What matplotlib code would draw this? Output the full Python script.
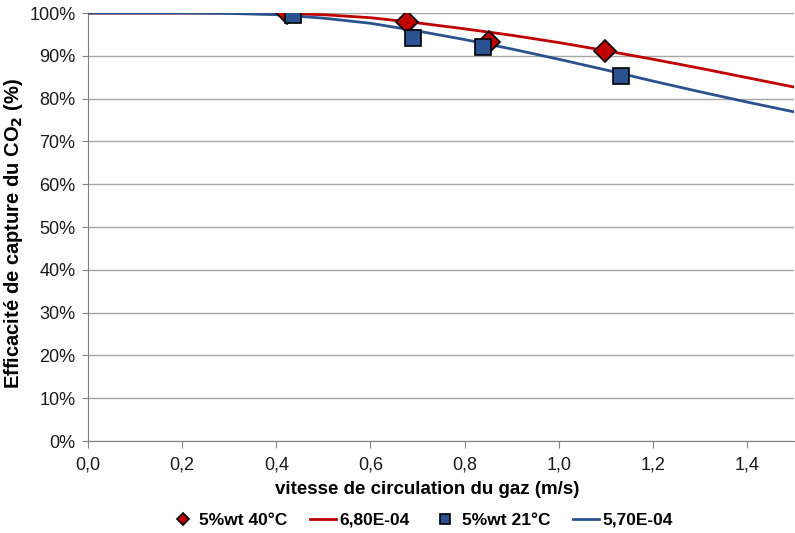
import matplotlib.pyplot as plt
from matplotlib.ticker import FuncFormatter

plt.rcParams['font.family'] = ['Liberation Sans', 'DejaVu Sans']

# mesures
x_40 = [0.423, 0.677, 0.851, 1.098]
y_40 = [100.0, 97.9, 93.2, 91.1]
x_21 = [0.436, 0.691, 0.840, 1.132]
y_21 = [99.5, 94.2, 92.1, 85.3]

# modeles
x_mod = [0.0, 0.1, 0.2, 0.3, 0.4, 0.5, 0.6, 0.7, 0.8, 0.9, 1.0, 1.1, 1.2, 1.3, 1.4, 1.5]
y_mod_40 = [100, 100, 100, 100, 99.9, 99.6, 98.9, 97.7, 96.3, 94.8, 93.1, 91.2, 89.2, 87.1, 84.9, 82.7]
y_mod_21 = [100, 100, 100, 99.9, 99.6, 98.8, 97.6, 95.8, 93.8, 91.6, 89.2, 86.7, 84.1, 81.6, 79.2, 76.9]

red = "#C00000"
blue = "#2A5290"

fig = plt.figure(figsize=(7.95, 5.33), dpi=100)
ax = fig.add_axes([88 / 795, 1 - 441 / 533, 706 / 795, 428 / 533])

ax.plot(x_mod, y_mod_40, color=red, lw=2, label="6,80E-04", zorder=3)
ax.plot(x_mod, y_mod_21, color=blue, lw=2, label="5,70E-04", zorder=3)
ax.plot(x_40, y_40, ls="none", marker="D", ms=11, color=red, mec="black", mew=1.2,
        label="5%wt 40°C", zorder=4)
ax.plot(x_21, y_21, ls="none", marker="s", ms=12, color=blue, mec="black", mew=1.2,
        label="5%wt 21°C", zorder=4)

ax.set_xlim(0, 1.5)
ax.set_ylim(0, 100)
ax.set_xticks([0, 0.2, 0.4, 0.6, 0.8, 1.0, 1.2, 1.4])
ax.set_yticks(range(0, 101, 10))
ax.xaxis.set_major_formatter(FuncFormatter(lambda v, p: f"{v:.1f}".replace(".", ",")))
ax.yaxis.set_major_formatter(FuncFormatter(lambda v, p: f"{v:.0f}%"))
ax.tick_params(labelsize=13, color="#808080", length=5, labelcolor="#1a1a1a")
ax.tick_params(axis="x", pad=6)
ax.tick_params(axis="y", length=4, pad=5)
ax.grid(axis="y", color="#A6A6A6", lw=1)
ax.set_axisbelow(True)
for s in ["top", "right"]:
    ax.spines[s].set_visible(False)
for s in ["left", "bottom"]:
    ax.spines[s].set_color("#808080")

ax.set_xlabel("vitesse de circulation du gaz (m/s)", fontsize=13.5, fontweight="bold")
ax.xaxis.set_label_coords(0.48, -0.093)
ax.set_ylabel("Efficacité de capture du CO$_\\mathbf{2}$ (%)", fontsize=14.5, fontweight="bold")
ax.yaxis.set_label_coords(-0.089, 0.486)

h, l = ax.get_legend_handles_labels()
order = [2, 0, 3, 1]
ax.legend([h[i] for i in order], [l[i] for i in order], ncol=4, frameon=False,
          loc="center", bbox_to_anchor=(0.472, -0.185),
          prop={"weight": "bold", "size": 12.5}, handlelength=1.5, handletextpad=0.2,
          columnspacing=1.3, markerscale=0.6)

fig.savefig("out.png", dpi=100)
